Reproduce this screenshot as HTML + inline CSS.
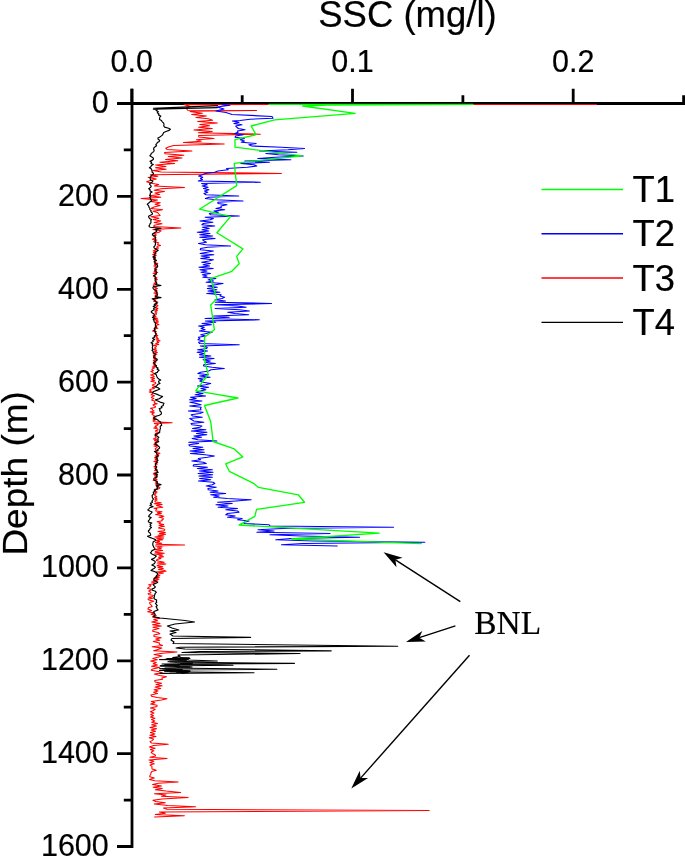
<!DOCTYPE html>
<html><head><meta charset="utf-8"><title>SSC profile</title>
<style>html,body{margin:0;padding:0;background:#fff;}svg{display:block;}</style>
</head><body>
<svg width="685" height="857" viewBox="0 0 685 857">
<rect width="685" height="857" fill="#fff"/>
<g stroke="#000" stroke-width="2.8" fill="none" stroke-linecap="butt">
<path d="M132 88.8V847.9"/>
<path d="M117 103.5H683.6V95.2"/>
<path d="M131.8 88.8V103.5M242.2 95.3V103.5M352.5 88.8V103.5M462.9 95.3V103.5M573.2 88.8V103.5M123.8 149.9H132M117.0 196.4H132M123.8 242.8H132M117.0 289.3H132M123.8 335.7H132M117.0 382.1H132M123.8 428.6H132M117.0 475.0H132M123.8 521.5H132M117.0 567.9H132M123.8 614.3H132M117.0 660.8H132M123.8 707.2H132M117.0 753.7H132M123.8 800.1H132M117.0 846.5H132"/>
</g>
<g fill="none" stroke-linejoin="round" stroke-linecap="round">
<path d="M596.5 104.4L184.0 104.6L190.0 106.5L186.0 108.0L187.6 110.2L256.6 110.5L190.0 111.2L191.1 111.8L202.4 113.2L191.7 114.6L206.4 116.0L196.0 117.4L208.2 118.8L212.7 120.2L197.7 121.6L217.4 123.0L199.8 124.4L209.5 125.8L198.6 127.2L212.2 128.6L193.9 130.0L212.3 131.4L198.2 132.8L260.3 134.2L198.6 135.6L198.8 137.0L214.0 138.4L196.4 139.8L201.3 141.2L183.5 142.6L224.3 144.0L173.8 145.4L169.0 146.8L165.7 148.2L167.2 149.6L192.0 151.0L164.5 152.4L165.0 153.8L183.9 155.2L168.3 156.6L182.0 158.0L165.5 159.4L177.8 160.8L159.9 162.2L174.6 163.6L155.6 165.0L165.9 166.4L155.4 167.8L166.2 169.2L152.8 170.6L161.1 172.0L281.4 173.4L150.3 174.8L157.9 176.2L148.2 177.6L156.3 179.0L150.2 180.4L146.7 181.8L151.2 183.2L158.7 184.6L154.4 186.0L184.6 187.4L161.1 188.8L154.1 190.2L164.4 191.6L155.0 193.0L159.6 194.4L149.9 195.8L160.8 197.2L141.2 198.6L157.5 200.0L150.4 201.4L160.3 202.8L155.1 204.2L160.1 205.6L154.0 207.0L150.9 208.4L162.6 209.8L153.0 211.2L157.7 212.6L158.8 214.0L160.1 215.4L150.9 216.8L159.0 218.2L153.1 219.6L160.7 221.0L154.1 222.4L162.0 223.8L154.2 225.2L153.7 226.6L180.9 228.0L152.9 229.4L161.1 230.8L159.0 232.2L154.0 233.6L156.3 235.0L153.4 236.4L156.0 237.8L152.4 239.2L156.9 240.0L154.2 240.9L153.7 241.8L158.7 242.7L157.9 243.6L157.6 244.5L160.6 245.4L157.3 246.3L156.7 247.2L158.6 248.1L154.7 249.0L156.0 249.9L153.2 250.8L156.3 251.7L153.4 252.6L156.1 253.5L152.7 254.4L156.3 255.3L153.4 256.2L155.7 257.1L153.6 258.0L153.8 258.9L154.2 259.8L156.5 260.7L154.2 261.6L154.3 262.5L157.8 263.4L154.5 264.3L156.3 265.2L153.9 266.1L157.1 267.0L155.0 267.9L154.3 268.8L156.9 269.7L155.8 270.6L154.2 271.5L157.8 272.4L153.1 273.3L156.3 274.2L155.1 275.1L153.3 276.0L155.0 276.9L156.9 277.8L154.5 278.7L157.3 279.6L155.9 280.5L155.3 281.4L156.7 282.3L153.9 283.2L156.1 284.1L153.3 285.0L153.8 285.9L156.5 286.8L154.5 287.7L157.4 288.6L155.0 289.5L157.0 290.4L154.9 291.3L157.5 292.2L153.9 293.1L157.8 294.0L155.3 294.9L155.2 295.8L157.3 296.7L155.1 297.6L157.8 298.5L153.5 299.4L155.7 300.3L153.6 301.2L157.8 302.1L155.6 303.0L156.9 303.9L156.3 304.8L158.0 305.7L156.5 306.6L155.6 307.5L158.0 308.4L155.5 309.3L157.5 310.2L154.8 311.1L156.9 312.0L155.0 312.9L156.5 313.8L156.1 314.7L153.0 315.6L155.9 316.5L153.0 317.4L157.5 318.3L154.1 319.2L158.1 320.1L155.6 321.0L158.5 321.9L155.3 322.8L157.2 323.7L159.0 324.6L155.9 325.5L156.6 326.4L154.6 327.3L157.9 328.2L154.1 329.1L155.5 330.0L152.5 330.9L155.9 331.8L154.9 332.7L156.5 333.6L155.7 334.5L157.8 335.4L155.3 336.3L157.5 337.2L155.9 338.1L158.7 339.0L156.2 339.9L160.0 340.8L157.0 341.7L158.8 342.6L155.7 343.5L158.8 344.4L153.5 345.3L156.6 346.2L155.8 347.1L154.5 348.0L156.3 348.9L153.7 349.8L156.8 350.7L154.6 351.6L157.3 352.5L153.1 353.4L156.8 354.3L153.2 355.2L155.7 356.1L153.8 357.0L155.8 357.9L153.6 358.8L156.7 359.7L153.3 360.6L155.8 361.5L155.8 362.4L153.2 363.3L155.5 364.2L153.4 365.1L156.5 366.0L152.2 366.9L154.7 367.8L152.7 368.7L151.8 369.6L153.4 370.5L150.8 371.4L152.9 372.3L153.1 373.2L154.1 374.1L150.7 375.0L153.8 375.9L154.2 376.8L150.6 377.7L154.5 378.6L151.8 379.5L154.4 380.4L150.8 381.3L155.0 382.2L155.9 383.1L154.7 384.0L152.3 384.9L153.0 385.8L156.4 386.7L152.3 387.6L154.3 388.5L149.8 389.4L150.0 390.3L151.4 391.2L149.3 392.1L152.3 393.0L152.7 393.9L151.1 394.8L154.5 395.7L152.2 396.6L151.3 397.5L154.0 398.4L152.1 399.3L151.8 400.2L154.6 401.1L154.9 402.0L154.2 402.9L157.2 403.8L153.0 404.7L153.5 405.6L155.5 406.5L155.2 407.4L150.5 408.3L152.5 409.2L152.5 410.1L154.0 411.0L150.1 411.9L154.3 412.8L152.1 413.7L152.1 414.6L154.1 415.5L154.4 416.4L153.3 417.3L156.3 418.2L153.0 419.1L155.3 420.0L152.9 420.9L154.3 421.8L172.2 422.7L154.3 423.6L158.3 424.5L157.1 425.4L155.0 426.3L156.8 427.2L153.8 428.1L157.9 429.0L158.0 429.9L155.6 430.8L156.0 431.7L159.8 432.6L155.3 433.5L157.5 434.4L156.6 435.3L155.4 436.2L155.2 437.1L156.4 438.0L153.3 438.9L157.3 439.8L154.4 440.7L158.1 441.6L155.2 442.5L156.6 443.4L153.8 444.3L157.8 445.2L154.1 446.1L157.4 447.0L156.5 447.9L155.2 448.8L155.6 449.7L158.3 450.6L156.6 451.5L156.6 452.4L159.9 453.3L156.4 454.2L158.9 455.1L155.1 456.0L158.1 456.9L154.5 457.8L157.4 458.7L155.3 459.6L157.5 460.5L153.9 461.4L157.8 462.3L155.3 463.2L157.3 464.1L155.3 465.0L156.0 465.9L153.9 466.8L156.5 467.7L154.7 468.6L157.1 469.5L154.5 470.4L157.3 471.3L157.8 472.2L154.1 473.1L153.3 474.0L157.2 474.9L154.4 475.8L156.5 476.7L156.2 477.6L155.4 478.5L157.0 479.4L153.2 480.3L157.5 481.2L157.5 482.1L155.3 483.0L157.9 483.9L155.7 484.8L159.0 485.7L156.5 486.6L159.9 487.5L159.6 488.4L154.6 489.3L155.6 490.2L155.2 491.1L157.1 492.0L154.7 492.9L156.1 493.8L154.4 494.7L155.2 495.6L156.8 496.5L154.6 497.4L156.9 498.3L154.9 499.2L157.1 500.1L154.8 501.0L155.4 501.9L161.1 502.8L154.1 503.7L162.1 504.6L156.5 505.5L160.1 506.4L162.7 507.3L154.0 508.2L156.8 509.1L156.0 510.0L155.8 510.9L162.0 511.8L157.3 512.7L161.3 513.6L155.6 514.5L161.3 515.4L163.8 516.3L159.0 517.2L162.8 518.1L163.5 519.0L161.7 519.9L162.3 520.8L157.1 521.7L160.3 522.6L159.1 523.5L163.7 524.4L158.9 525.3L164.4 526.2L160.0 527.1L158.5 528.0L163.8 528.9L164.8 529.8L164.0 530.7L158.0 531.6L165.4 532.5L159.4 533.4L165.5 534.3L158.0 535.2L163.8 536.1L154.7 537.0L163.8 537.9L156.6 538.8L162.9 539.7L156.4 540.6L159.5 541.5L155.4 542.4L161.8 543.3L155.9 544.2L184.6 545.1L155.6 546.0L162.0 546.9L157.5 547.8L161.3 548.7L154.1 549.6L162.7 550.5L155.3 551.4L155.3 552.3L164.3 553.2L154.4 554.1L162.7 555.0L158.9 555.9L163.5 556.8L158.5 557.7L160.9 558.6L157.0 559.5L156.3 560.4L159.1 561.3L164.3 562.2L157.3 563.1L165.9 564.0L158.5 564.9L157.0 565.8L162.8 566.7L158.0 567.6L163.3 568.5L158.4 569.4L163.7 570.3L166.0 571.2L156.1 572.1L163.6 573.0L158.1 573.9L157.4 574.8L160.0 575.7L155.6 576.6L159.2 577.5L154.1 578.4L158.9 579.3L153.2 580.2L157.8 581.1L151.5 582.0L155.3 582.9L153.1 583.8L148.7 584.7L150.8 585.6L150.2 586.5L148.5 587.4L147.5 588.3L150.7 589.2L151.1 590.1L148.7 591.0L150.3 591.9L151.0 592.8L148.1 593.7L148.8 594.6L153.5 595.5L152.4 596.4L148.8 597.3L152.7 598.2L148.0 599.1L149.0 600.0L153.8 601.3L149.7 602.6L149.9 603.9L151.4 605.2L152.2 606.5L148.3 607.8L147.9 609.1L151.6 610.4L147.7 611.7L154.5 613.0L151.1 614.3L156.2 615.6L152.4 616.9L159.9 618.2L153.7 619.5L157.5 620.8L151.8 622.1L160.0 623.4L152.5 624.7L161.3 626.0L153.0 627.3L159.0 628.6L152.9 629.9L152.7 631.2L157.9 632.5L159.8 633.8L153.9 635.1L154.0 636.4L161.3 637.7L155.7 639.0L159.7 640.3L153.3 641.6L159.6 642.9L159.2 644.2L162.5 645.5L152.1 646.8L161.8 648.1L157.8 649.4L153.6 650.7L177.0 652.0L162.2 653.3L154.1 654.6L162.0 655.9L157.7 657.2L152.8 658.5L157.3 659.8L150.7 661.1L156.3 662.4L153.2 663.7L157.4 665.0L151.6 666.3L159.4 667.6L152.7 668.9L151.2 670.2L158.1 671.5L162.2 672.8L154.4 674.1L159.6 675.4L166.5 676.7L161.8 678.0L162.5 679.3L154.8 680.6L155.0 681.9L161.6 683.2L156.0 684.5L162.1 685.8L155.1 687.1L160.7 688.4L154.1 689.7L158.0 691.0L153.7 692.3L157.5 693.6L150.9 694.9L151.6 696.2L157.2 697.5L167.0 698.8L161.4 700.1L151.3 701.4L155.0 702.7L150.6 704.0L157.0 705.3L157.0 706.6L150.5 707.9L155.2 709.2L153.2 710.5L150.4 711.8L153.9 713.1L150.7 714.4L153.5 715.7L150.5 717.0L154.9 718.3L151.5 719.6L154.8 720.9L151.7 722.2L157.5 723.5L151.7 724.8L156.4 726.1L150.0 727.4L156.6 728.7L151.1 730.0L155.5 731.3L150.4 732.6L154.9 733.9L149.9 735.2L156.0 736.5L149.2 737.8L153.5 739.1L152.5 740.4L150.0 741.7L151.5 743.0L168.3 744.3L153.5 745.6L149.4 746.9L155.2 748.2L150.4 749.5L153.8 750.8L151.1 752.1L152.2 753.4L155.1 754.7L155.6 756.0L150.0 757.3L167.0 758.6L149.0 759.9L153.9 761.2L149.9 762.5L154.2 763.8L150.1 765.1L152.0 766.4L151.9 767.7L152.1 769.0L156.3 770.3L151.8 771.6L150.9 772.9L150.8 774.2L149.9 775.5L149.7 776.8L154.3 778.1L149.5 779.4L154.8 780.7L178.2 782.0L158.4 783.3L152.6 784.6L161.5 785.9L153.1 787.2L162.3 788.5L155.3 789.8L166.1 791.1L180.7 792.4L154.4 793.7L166.0 795.0L161.4 796.3L188.1 797.6L162.0 798.9L152.9 800.2L155.8 801.5L165.3 802.8L154.3 804.1L167.8 805.4L195.6 806.7L163.5 808.0L166.8 809.3L429.2 810.6L159.4 811.9L165.4 813.2L155.2 814.5L184.4 815.8L154.6 817.0" stroke="#ff0000" stroke-width="1.05"/>
<path d="M217.5 105.6L153.4 108.3L160.0 108.8L217.5 107.6L153.4 109.2L157.6 109.5L156.0 110.6L158.4 111.7L157.2 112.8L159.0 113.9L158.4 115.0L160.8 116.1L159.8 117.2L159.6 118.3L159.5 119.4L161.5 120.5L162.0 121.6L163.3 122.7L163.9 123.8L164.0 124.9L163.7 126.0L164.6 127.1L168.6 128.2L170.4 129.3L169.1 130.4L166.0 131.5L163.7 132.6L163.1 133.7L162.7 134.8L161.4 135.9L159.9 137.0L157.9 138.1L158.1 139.2L159.7 140.3L159.2 141.4L157.4 142.5L156.7 143.6L155.8 144.7L156.6 145.8L154.9 146.9L153.8 148.0L153.6 149.1L154.2 150.2L153.8 151.3L152.8 152.4L151.2 153.5L150.9 154.6L149.9 155.7L151.4 156.8L153.3 157.9L153.5 159.0L152.5 160.1L150.0 161.2L151.6 162.3L151.0 163.4L153.3 164.5L151.4 165.6L150.9 166.7L149.4 167.8L151.5 168.9L151.7 170.0L152.1 171.1L152.1 172.2L153.5 173.3L153.2 174.4L151.2 175.5L150.9 176.6L150.0 177.7L150.3 178.8L150.5 179.9L152.9 181.0L152.4 182.1L150.0 183.2L149.6 184.3L150.8 185.4L151.2 186.5L150.4 187.6L148.7 188.7L150.1 189.8L150.1 190.9L152.1 192.0L150.2 193.1L150.5 194.2L149.5 195.3L150.8 196.4L149.8 197.5L150.6 198.6L150.8 199.7L151.7 200.8L149.9 201.9L148.8 203.0L147.2 204.1L148.1 205.2L148.9 206.3L149.0 207.4L149.9 208.5L149.9 209.6L151.1 210.7L150.9 211.8L152.2 212.9L152.5 214.0L150.9 215.1L148.5 216.2L148.8 217.3L149.5 218.4L151.4 219.5L150.8 220.6L151.0 221.7L150.9 222.8L149.9 223.9L149.6 225.0L148.9 226.1L150.2 227.2L161.0 228.3L155.0 229.4L156.8 230.5L156.6 231.6L154.4 232.7L152.7 233.8L152.3 234.9L155.1 236.0L155.3 237.1L155.5 238.2L155.3 239.3L155.2 240.4L155.8 241.5L155.1 242.6L155.6 243.7L155.3 244.8L154.9 245.9L153.7 247.0L154.5 248.1L156.0 249.2L158.2 250.3L156.5 251.4L155.5 252.5L155.3 253.6L154.4 254.7L154.9 255.8L152.8 256.9L155.5 258.0L153.8 259.1L156.5 260.2L154.3 261.3L155.2 262.4L154.8 263.5L157.1 264.6L157.6 265.7L157.6 266.8L155.8 267.9L156.0 269.0L154.6 270.1L156.2 271.2L156.3 272.3L156.3 273.4L155.8 274.5L153.7 275.6L155.3 276.7L155.1 277.8L155.9 278.9L155.0 280.0L155.3 281.1L156.2 282.2L156.9 283.3L155.8 284.4L161.0 285.5L153.3 286.6L152.9 287.7L153.4 288.8L154.6 289.9L156.4 291.0L156.8 292.1L156.9 293.2L157.2 294.3L157.3 295.4L155.2 296.5L161.0 297.6L152.1 298.7L154.0 299.8L155.1 300.9L156.5 302.0L157.2 303.1L154.2 304.2L155.6 305.3L153.2 306.4L155.7 307.5L153.6 308.6L154.3 309.7L152.1 310.8L151.2 311.9L152.3 313.0L154.1 314.1L154.4 315.2L153.9 316.3L152.4 317.4L154.7 318.5L153.2 319.6L154.2 320.7L154.1 321.8L155.3 322.9L155.5 324.0L155.3 325.1L155.7 326.2L156.2 327.3L154.3 328.4L154.9 329.5L153.9 330.6L156.0 331.7L155.3 332.8L156.0 333.9L156.0 335.0L154.2 336.1L154.6 337.2L152.5 338.3L154.7 339.4L152.7 340.5L153.2 341.6L151.0 342.7L152.8 343.8L152.2 344.9L152.9 346.0L152.4 347.1L152.3 348.2L153.2 349.3L151.9 350.4L153.2 351.5L153.1 352.6L155.2 353.7L155.1 354.8L154.3 355.9L153.5 357.0L154.8 358.1L157.3 359.2L157.0 360.3L155.1 361.4L153.4 362.5L154.8 363.6L154.9 364.7L156.5 365.8L155.9 366.9L158.1 368.0L157.0 369.1L159.1 370.2L157.8 371.3L157.3 372.4L154.4 373.5L156.1 374.6L156.6 375.7L156.9 376.8L157.6 377.9L158.8 379.0L160.7 380.1L158.5 381.2L158.8 382.3L160.0 383.4L157.5 384.5L157.1 385.6L154.9 386.7L158.1 387.8L159.8 388.9L157.6 390.0L154.7 391.1L152.3 392.2L153.9 393.3L157.2 394.4L159.7 395.5L162.6 396.6L160.8 397.7L159.2 398.8L155.4 399.9L157.8 401.0L160.1 402.1L164.1 403.2L163.3 404.3L163.3 405.4L161.3 406.5L161.9 407.6L159.1 408.7L160.1 409.8L159.7 410.9L161.1 412.0L161.5 413.1L161.1 414.2L159.3 415.3L155.5 416.4L154.0 417.5L153.8 418.6L157.6 419.7L158.4 420.8L160.6 421.9L160.5 423.0L161.4 424.1L161.7 425.2L160.3 426.3L160.2 427.4L160.5 428.5L160.0 429.6L159.8 430.7L159.7 431.8L158.9 432.9L156.6 434.0L154.8 435.1L157.2 436.2L158.8 437.3L157.8 438.4L158.1 439.5L157.8 440.6L158.7 441.7L155.3 442.8L155.1 443.9L157.0 445.0L158.3 446.1L159.6 447.2L159.4 448.3L157.7 449.4L157.4 450.5L154.5 451.6L156.3 452.7L156.8 453.8L157.6 454.9L158.3 456.0L156.2 457.1L157.1 458.2L157.1 459.3L158.0 460.4L156.9 461.5L156.9 462.6L155.4 463.7L155.4 464.8L155.5 465.9L156.8 467.0L155.9 468.1L155.5 469.2L157.0 470.3L157.2 471.4L158.1 472.5L154.7 473.6L157.6 474.7L156.4 475.8L157.3 476.9L154.3 478.0L153.7 479.1L154.4 480.2L156.4 481.3L157.4 482.4L156.9 483.5L161.0 484.6L156.1 485.7L158.2 486.8L156.9 487.9L157.8 489.0L154.2 490.1L155.0 491.2L153.2 492.3L153.8 493.4L153.1 494.5L152.0 495.6L152.3 496.7L152.4 497.8L153.5 498.9L152.8 500.0L151.9 501.1L152.5 502.2L150.4 503.3L151.5 504.4L150.0 505.5L153.1 506.6L149.7 507.7L149.0 508.8L147.8 509.9L149.7 511.0L152.1 512.1L151.3 513.2L150.1 514.3L149.1 515.4L148.6 516.5L151.2 517.6L149.8 518.7L149.3 519.8L148.3 520.9L148.4 522.0L151.8 523.1L149.9 524.2L151.0 525.3L149.9 526.4L151.5 527.5L149.9 528.6L149.7 529.7L148.4 530.8L148.5 531.9L150.0 533.0L150.5 534.1L150.7 535.2L147.5 536.3L149.8 537.4L152.8 538.5L155.5 539.6L155.4 540.7L153.3 541.8L152.9 542.9L152.8 544.0L152.8 545.1L153.4 546.2L153.8 547.3L154.9 548.4L154.7 549.5L151.9 550.6L151.5 551.7L150.4 552.8L151.8 553.9L153.9 555.0L156.3 556.1L155.3 557.2L154.1 558.3L151.5 559.4L153.8 560.5L155.2 561.6L155.1 562.7L154.1 563.8L151.8 564.9L153.9 566.0L155.5 567.1L154.5 568.2L152.6 569.3L151.0 570.4L154.4 571.5L156.5 572.6L157.5 573.7L157.5 574.8L156.2 575.9L156.9 577.0L154.3 578.1L153.8 579.2L154.2 580.3L156.4 581.4L157.7 582.5L155.0 583.6L153.1 584.7L154.3 585.8L155.4 586.9L154.4 588.0L151.9 589.1L152.4 590.2L155.5 591.3L156.3 592.4L155.1 593.5L154.9 594.6L154.4 595.7L154.5 596.8L153.7 597.9L154.5 599.0L156.7 600.1L156.3 601.2L156.8 602.3L155.4 603.4L156.3 604.5L157.3 605.6L156.0 606.7L156.9 607.8L157.0 608.9L158.0 610.0L154.8 611.1L153.2 612.2L154.5 613.3L155.2 614.4L154.3 615.5L153.2 616.6L160.0 618.0L185.0 620.5L194.6 622.0L175.0 624.0L167.4 626.0L172.0 628.0L178.8 630.0L170.0 631.0L176.0 632.5L170.0 634.0L173.0 636.0L250.6 637.4L172.0 638.5L171.0 640.0L174.0 642.0L173.0 643.5L397.7 646.2L180.0 647.2L176.0 648.0L185.0 649.0L331.2 650.8L200.0 651.5L182.0 652.5L300.0 653.5L178.0 655.0L180.0 656.5L172.7 657.5L190.0 658.5L165.0 659.2L217.3 661.0L170.0 661.8L188.0 662.3L294.4 663.4L162.0 664.0L233.0 665.2L160.0 666.0L192.0 667.0L165.0 668.0L276.9 669.2L163.0 670.0L190.0 671.0L170.0 671.8L254.0 672.7L160.0 673.3" stroke="#000000" stroke-width="1.15"/>
<path d="M180.3 657.5L189.5 657.9L185.4 658.2L166.7 658.6L169.2 658.9L188.7 659.3L159.2 659.6L186.9 660.0L186.1 660.3L174.9 660.7L169.3 661.0L168.5 661.4L167.7 661.7L174.1 662.1L176.2 662.4L177.8 662.8L192.8 663.1L186.0 663.5L180.2 663.8L192.6 664.2L166.3 664.5L164.4 664.9L179.8 665.2L160.5 665.6L160.2 665.9L176.5 666.3L174.9 666.6L190.2 667.0L180.4 667.3L176.5 667.7L175.9 668.0L167.4 668.4L159.4 668.7L165.5 669.1L182.5 669.4L165.8 669.8L171.6 670.1L159.1 670.5L187.2 670.8L164.3 671.2L168.1 671.5L188.9 671.9L176.3 672.2L187.8 672.6L180.8 672.9L184.2 673.3" stroke="#000" stroke-width="0.9"/>
<path d="M222.0 104.8L230.0 105.2L217.0 107.0L224.0 109.0L216.0 111.0L226.0 112.5L232.0 114.5L272.0 116.5L273.0 118.3L250.0 119.2L240.0 120.5L232.4 121.0L239.1 122.2L234.0 123.5L241.9 124.8L235.7 126.0L236.8 127.2L238.3 128.5L245.0 129.8L237.4 131.0L238.1 132.2L234.8 133.5L243.2 134.8L235.6 136.0L235.1 137.2L244.4 138.5L240.3 139.8L244.4 141.0L241.3 142.2L256.2 143.5L248.9 144.8L251.9 146.0L281.5 147.2L304.5 148.5L288.1 149.8L259.6 151.0L296.8 152.2L265.9 153.5L278.5 154.8L303.2 156.0L275.2 157.2L257.8 158.5L290.8 159.8L244.8 161.0L269.4 162.2L240.9 163.5L254.1 164.8L256.8 166.0L247.4 167.2L226.6 168.5L228.1 169.8L217.9 171.0L214.6 172.2L205.4 173.5L202.4 174.8L198.6 176.0L202.8 177.2L200.5 178.5L202.5 179.8L198.3 181.0L260.3 182.2L201.6 183.5L207.2 184.8L202.2 186.0L208.1 187.2L203.5 188.5L208.9 189.8L204.5 191.0L207.7 192.2L204.0 193.5L206.1 194.8L238.7 196.0L209.0 197.2L205.4 198.5L216.0 199.8L243.0 201.0L217.8 202.2L218.0 203.5L227.0 204.8L220.9 206.0L221.4 207.2L216.0 208.5L224.7 209.8L213.8 211.0L218.4 212.2L209.3 213.5L210.7 214.8L239.2 216.0L205.1 217.2L213.4 218.5L210.3 219.8L200.0 221.0L212.9 222.2L203.4 223.5L201.9 224.8L214.7 226.0L202.4 227.2L209.2 228.5L202.1 229.8L208.8 231.0L197.3 232.2L210.0 233.5L199.7 234.8L212.7 236.0L199.8 237.2L215.1 238.5L202.6 239.8L204.1 241.0L206.4 242.2L198.5 243.5L205.5 244.8L230.5 246.0L207.7 247.2L200.6 248.5L200.3 249.8L213.4 251.0L206.9 252.2L200.1 253.5L213.8 254.8L201.1 256.0L209.5 257.2L200.7 258.5L213.4 259.8L208.9 261.0L201.7 262.2L210.4 263.5L203.1 264.8L209.6 266.0L198.9 267.2L213.2 268.5L199.9 269.8L207.0 271.0L201.0 272.2L210.5 273.5L202.4 274.8L206.9 276.0L202.8 277.2L215.9 278.5L208.2 279.8L213.5 281.0L206.1 282.2L223.0 283.5L215.3 284.8L207.8 286.0L217.3 287.2L207.3 288.5L216.8 289.8L208.0 291.0L219.9 292.2L206.8 293.5L221.2 294.8L220.1 296.0L224.6 297.2L221.9 298.5L215.1 299.8L225.6 301.0L215.3 302.2L271.5 303.5L215.0 304.8L237.7 306.0L246.1 307.2L215.2 308.5L239.2 309.8L249.4 311.0L227.7 312.2L234.9 313.5L248.6 314.8L213.7 316.0L229.2 317.2L205.1 318.5L259.3 319.8L205.4 321.0L215.8 322.2L202.0 323.5L211.4 324.8L198.6 326.0L204.3 327.2L201.1 328.5L205.1 329.8L199.3 331.0L212.2 332.2L206.3 333.5L200.8 334.8L205.5 336.0L198.4 337.2L199.7 338.5L198.0 339.8L204.0 341.0L198.5 342.2L199.7 343.5L239.2 344.8L200.3 346.0L207.2 347.2L206.7 348.5L197.7 349.8L207.6 351.0L197.1 352.2L204.0 353.5L199.4 354.8L210.9 356.0L199.4 357.2L214.0 358.5L203.0 359.8L210.3 361.0L204.9 362.2L215.4 363.5L203.6 364.8L203.7 366.0L212.0 367.2L224.3 368.5L211.0 369.8L208.7 371.0L200.6 372.2L197.9 373.5L208.4 374.8L199.7 376.0L210.1 377.2L198.2 378.5L202.7 379.8L199.8 381.0L203.1 382.2L210.7 383.5L205.6 384.8L197.4 386.0L208.6 387.2L200.9 388.5L205.9 389.8L200.5 391.0L196.1 392.2L203.0 393.5L195.1 394.8L205.6 396.0L190.5 397.2L196.1 398.5L189.6 399.8L201.9 401.0L189.9 402.2L196.4 403.5L201.0 404.8L189.7 406.0L201.2 407.2L200.5 408.5L201.0 409.8L188.4 411.0L203.1 412.2L199.8 413.5L191.2 414.8L192.7 416.0L202.3 417.2L189.7 418.5L191.9 419.8L193.8 421.0L203.9 422.2L191.0 423.5L192.1 424.8L201.9 426.0L199.8 427.2L192.5 428.5L205.9 429.8L191.4 431.0L207.0 432.2L196.5 433.5L206.8 434.8L193.9 436.0L201.6 437.2L192.1 438.5L197.9 439.8L216.9 441.0L188.8 442.2L198.7 443.5L188.9 444.8L190.0 446.0L202.8 447.2L193.0 448.5L204.0 449.8L190.0 451.0L204.4 452.2L190.5 453.5L205.1 454.8L214.4 456.0L207.4 457.2L198.3 458.5L200.5 459.8L191.8 461.0L203.4 462.2L206.2 463.5L193.7 464.8L193.2 466.0L207.4 467.2L197.4 468.5L212.4 469.8L199.4 471.0L213.1 472.2L198.1 473.5L212.7 474.8L198.8 476.0L212.4 477.2L199.6 478.5L210.8 479.8L198.5 481.0L213.2 482.2L214.8 483.5L212.2 484.8L206.2 486.0L216.2 487.2L208.0 488.5L208.2 489.8L218.0 491.0L210.1 492.2L225.7 493.5L210.7 494.8L219.2 496.0L213.6 497.2L227.2 498.5L251.1 499.8L235.9 501.0L217.6 502.2L232.2 503.5L216.0 504.8L228.0 506.0L218.1 507.2L237.5 508.5L225.8 509.8L237.5 511.0L239.0 512.2L227.6 513.5L225.8 514.8L235.2 516.0L227.5 517.2L242.2 518.5L237.6 519.8L249.1 521.0L244.1 522.2L244.1 523.5L269.1 524.8L270.1 526.0L393.5 527.2L282.3 528.5L258.1 529.8L274.0 531.0L256.9 532.2L330.0 533.5L270.0 534.8L301.6 536.0L359.6 537.2L290.9 538.5L275.8 539.8L314.2 541.0L424.8 542.2L302.8 543.5L281.5 544.8L337.2 546.0" stroke="#0000ff" stroke-width="1.15"/>
<path d="M269.0 104.4L473.0 104.4L327.0 105.2L302.6 106.0L355.1 113.4L274.7 119.9L251.1 126.0L256.1 134.7L235.0 139.7L235.0 147.2L302.0 155.8L234.2 163.3L236.7 185.6L199.5 209.2L230.5 216.6L216.9 232.8L242.9 248.9L236.7 256.4L239.2 263.8L231.8 271.3L210.7 278.7L216.9 298.6L210.7 305.0L214.4 329.8L204.5 337.2L204.5 359.6L208.2 374.5L195.8 390.6L209.4 393.1L238.0 398.0L204.5 405.5L210.7 421.6L213.1 441.5L234.2 448.9L242.9 456.9L225.6 463.8L229.3 471.3L254.1 483.7L258.5 487.4L298.3 494.8L304.5 502.3L256.6 509.4L254.8 516.3L239.0 525.0L379.2 533.1L291.6 539.0L421.3 543.6" stroke="#00ff00" stroke-width="1.35"/>
</g>
<text transform="translate(131.80 72.30) scale(1.000 1.050)" font-family="Liberation Sans, Arial, sans-serif" font-size="30.5" text-anchor="middle" stroke="#000" stroke-width="0.2">0.0</text>
<text transform="translate(352.50 72.30) scale(1.000 1.050)" font-family="Liberation Sans, Arial, sans-serif" font-size="30.5" text-anchor="middle" stroke="#000" stroke-width="0.2">0.1</text>
<text transform="translate(573.20 72.30) scale(1.000 1.050)" font-family="Liberation Sans, Arial, sans-serif" font-size="30.5" text-anchor="middle" stroke="#000" stroke-width="0.2">0.2</text>
<text transform="translate(108.80 113.00) scale(1.000 1.050)" font-family="Liberation Sans, Arial, sans-serif" font-size="30.5" text-anchor="end" stroke="#000" stroke-width="0.2">0</text>
<text transform="translate(108.80 205.88) scale(1.000 1.050)" font-family="Liberation Sans, Arial, sans-serif" font-size="30.5" text-anchor="end" stroke="#000" stroke-width="0.2">200</text>
<text transform="translate(108.80 298.76) scale(1.000 1.050)" font-family="Liberation Sans, Arial, sans-serif" font-size="30.5" text-anchor="end" stroke="#000" stroke-width="0.2">400</text>
<text transform="translate(108.80 391.64) scale(1.000 1.050)" font-family="Liberation Sans, Arial, sans-serif" font-size="30.5" text-anchor="end" stroke="#000" stroke-width="0.2">600</text>
<text transform="translate(108.80 484.52) scale(1.000 1.050)" font-family="Liberation Sans, Arial, sans-serif" font-size="30.5" text-anchor="end" stroke="#000" stroke-width="0.2">800</text>
<text transform="translate(108.80 577.40) scale(1.000 1.050)" font-family="Liberation Sans, Arial, sans-serif" font-size="30.5" text-anchor="end" stroke="#000" stroke-width="0.2">1000</text>
<text transform="translate(108.80 670.28) scale(1.000 1.050)" font-family="Liberation Sans, Arial, sans-serif" font-size="30.5" text-anchor="end" stroke="#000" stroke-width="0.2">1200</text>
<text transform="translate(108.80 763.16) scale(1.000 1.050)" font-family="Liberation Sans, Arial, sans-serif" font-size="30.5" text-anchor="end" stroke="#000" stroke-width="0.2">1400</text>
<text transform="translate(108.80 856.04) scale(1.000 1.050)" font-family="Liberation Sans, Arial, sans-serif" font-size="30.5" text-anchor="end" stroke="#000" stroke-width="0.2">1600</text>
<text transform="translate(318.20 27.00)" font-family="Liberation Sans, Arial, sans-serif" font-size="36.5" stroke="#000" stroke-width="0.2">SSC (mg/l)</text>
<text transform="translate(26.80 555.60) rotate(-90) scale(1.000 0.970)" font-family="Liberation Sans, Arial, sans-serif" font-size="37" stroke="#000" stroke-width="0.2">Depth (m)</text>
<path d="M541.5 189.4H623" stroke="#00ff00" stroke-width="1.5"/>
<text transform="translate(632.40 202.00)" font-family="Liberation Sans, Arial, sans-serif" font-size="36.4" stroke="#000" stroke-width="0.2">T1</text>
<path d="M541.5 233.7H623" stroke="#0000ff" stroke-width="1.5"/>
<text transform="translate(632.40 246.30)" font-family="Liberation Sans, Arial, sans-serif" font-size="36.4" stroke="#000" stroke-width="0.2">T2</text>
<path d="M541.5 278.0H623" stroke="#ff0000" stroke-width="1.5"/>
<text transform="translate(632.40 290.60)" font-family="Liberation Sans, Arial, sans-serif" font-size="36.4" stroke="#000" stroke-width="0.2">T3</text>
<path d="M541.5 322.3H623" stroke="#000" stroke-width="1.2"/>
<text transform="translate(632.40 334.90)" font-family="Liberation Sans, Arial, sans-serif" font-size="36.4" stroke="#000" stroke-width="0.2">T4</text>
<text transform="translate(474.30 633.80)" font-family="Liberation Serif, Times New Roman, serif" font-size="33.4" stroke="#000" stroke-width="0.2">BNL</text>
<path d="M460.3 601.7L395.4 559.8" stroke="#000" stroke-width="1.4" fill="none"/><path d="M383.6 552.2L402.6 557.8L395.4 559.8L396.5 567.2Z" fill="#000"/>
<path d="M455.4 625.9L419.3 637.7" stroke="#000" stroke-width="1.4" fill="none"/><path d="M406.0 642.1L422.3 630.9L419.3 637.7L425.8 641.5Z" fill="#000"/>
<path d="M469.5 655.3L360.6 778.1" stroke="#000" stroke-width="1.4" fill="none"/><path d="M351.3 788.6L359.7 770.7L360.6 778.1L368.1 778.1Z" fill="#000"/>
</svg>
</body></html>
